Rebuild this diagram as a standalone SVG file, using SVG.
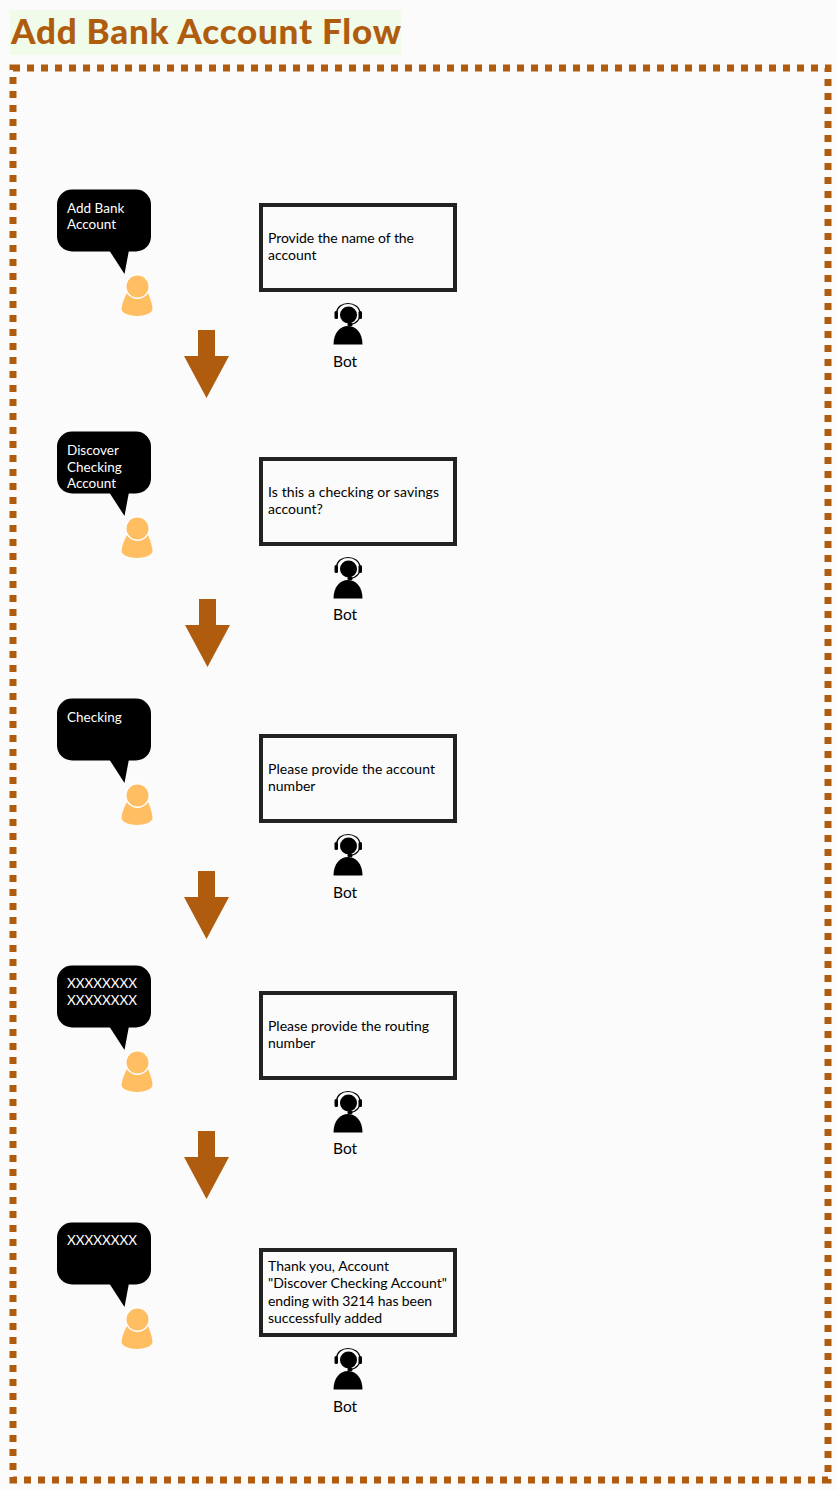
<svg xmlns="http://www.w3.org/2000/svg" width="837" height="1490" viewBox="0 0 837 1490">
<style>
text{font-family:"Lato","Liberation Sans",sans-serif}
.t{font-size:14px;fill:#000}
.u{font-size:13.500px;fill:#fff}
.b{font-size:15.500px;fill:#000}
.box{fill:none;stroke:#222;stroke-width:4}
.arrow{fill:#b05c0e}
</style>
<defs>
<g id="bubble"><rect x="57" y="189.500" width="94" height="62" rx="15" fill="#000"/><path d="M109 250L124.500 274L129 250Z" fill="#000"/></g>
<g id="user"><path d="M127 293Q137 289 148 293Q152 302 152.500 309C152.500 313 145 316 137 316C129 316 121.500 313 121.500 309Q122 302 127 293Z" fill="#ffbe62"/><circle cx="137.500" cy="286.500" r="12.500" fill="#fff"/><circle cx="137.500" cy="286.500" r="11" fill="#ffbe62"/></g>
<g id="bot"><path d="M333.500 344.500C333.500 333 340 326 348 326C356 326 362.500 333 362.500 344.500Z" fill="#000"/><circle cx="348.500" cy="315" r="8.500" fill="#000"/><path d="M336.500 313C337 307 342 303.500 348 303.500C354 303.500 359.500 307 360 313C360.500 319 357 323.500 350 324.500" fill="none" stroke="#000" stroke-width="1.200"/><rect x="334.500" y="311" width="3.500" height="8" rx="1.500" fill="#000"/><rect x="358.500" y="311" width="3.500" height="8" rx="1.500" fill="#000"/><rect x="347.500" y="323" width="5" height="3" rx="1" fill="#000"/></g>
<path id="arr" class="arrow" d="M198 330H215V356H229L206.500 398L184 356H198Z"/>
</defs>
<rect width="837" height="1490" fill="#fbfbfb"/>
<g id="title"><rect x="10" y="10" width="391" height="45" fill="#f0fbe9"/><text x="11" y="44" font-size="35" font-weight="900" fill="#b05c0e" textLength="390">Add Bank Account Flow</text></g>
<rect id="frame" x="13" y="68" width="815" height="1412" fill="none" stroke="#b05c0e" stroke-width="7" stroke-dasharray="7 7"/>
<g id="connectors">
<use href="#arr"/>
<use href="#arr" x="1" y="269"/>
<use href="#arr" y="541"/>
<use href="#arr" y="801"/>
</g>
<g id="user1"><use href="#bubble"/><use href="#user"/><text class="u" x="67" y="213">Add Bank</text><text class="u" x="67" y="229">Account</text></g>
<g id="user2"><use href="#bubble" y="242"/><use href="#user" y="242"/><text class="u" x="67" y="455">Discover</text><text class="u" x="67" y="472">Checking</text><text class="u" x="67" y="488">Account</text></g>
<g id="user3"><use href="#bubble" y="509"/><use href="#user" y="509"/><text class="u" x="67" y="722">Checking</text></g>
<g id="user4"><use href="#bubble" y="776"/><use href="#user" y="776"/><text class="u" x="67" y="988" textLength="70">XXXXXXXX</text><text class="u" x="67" y="1005" textLength="70">XXXXXXXX</text></g>
<g id="user5"><use href="#bubble" y="1033"/><use href="#user" y="1033"/><text class="u" x="67" y="1245" textLength="70">XXXXXXXX</text></g>
<g id="bot1"><rect class="box" x="261" y="205" width="194" height="85"/><text class="t" x="268" y="243" textLength="146">Provide the name of the</text><text class="t" x="268" y="260">account</text><use href="#bot"/><text class="b" x="333" y="367">Bot</text></g>
<g id="bot2"><rect class="box" x="261" y="459" width="194" height="85"/><text class="t" x="268" y="497" textLength="171">Is this a checking or savings</text><text class="t" x="268" y="514">account?</text><use href="#bot" y="254"/><text class="b" x="333" y="620">Bot</text></g>
<g id="bot3"><rect class="box" x="261" y="736" width="194" height="85"/><text class="t" x="268" y="774" textLength="167">Please provide the account</text><text class="t" x="268" y="791">number</text><use href="#bot" y="531"/><text class="b" x="333" y="898">Bot</text></g>
<g id="bot4"><rect class="box" x="261" y="993" width="194" height="85"/><text class="t" x="268" y="1031" textLength="161">Please provide the routing</text><text class="t" x="268" y="1048">number</text><use href="#bot" y="788"/><text class="b" x="333" y="1154">Bot</text></g>
<g id="bot5"><rect class="box" x="261" y="1250" width="194" height="85"/><text class="t" x="268" y="1271">Thank you, Account</text><text class="t" x="268" y="1288" textLength="179">"Discover Checking Account"</text><text class="t" x="268" y="1306" textLength="164">ending with 3214 has been</text><text class="t" x="268" y="1323">successfully added</text><use href="#bot" y="1045"/><text class="b" x="333" y="1412">Bot</text></g>
</svg>
